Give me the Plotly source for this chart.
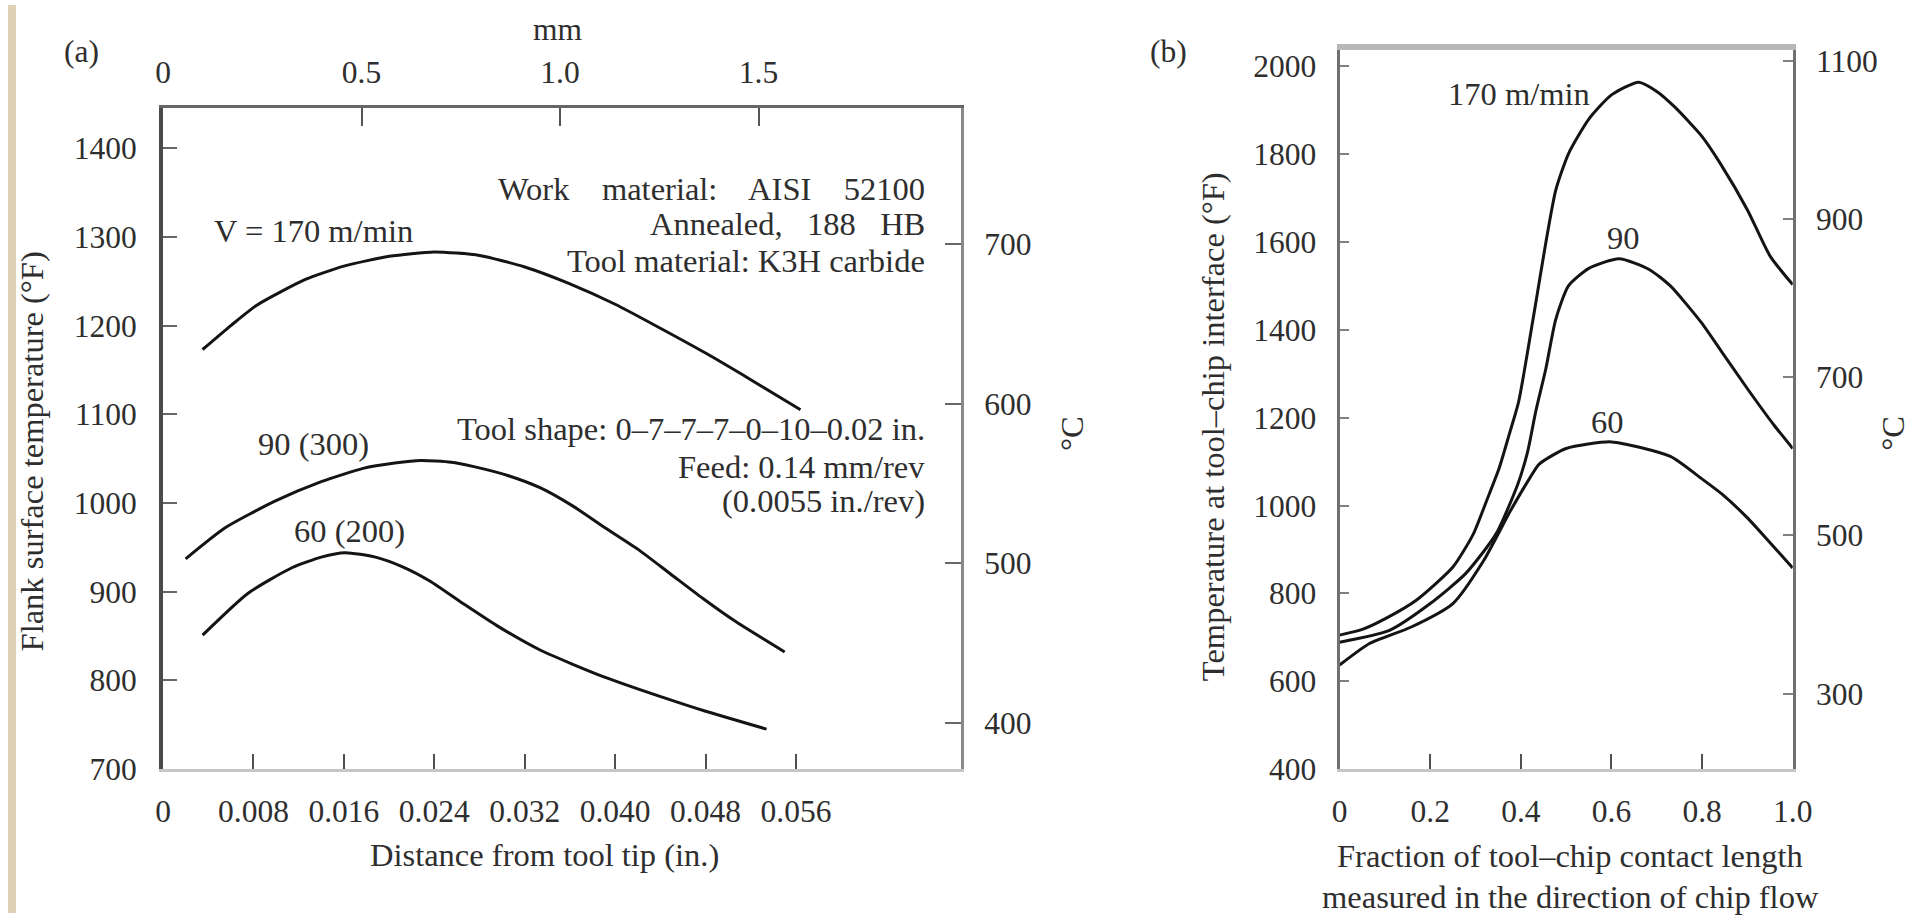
import plotly.graph_objects as go

# ---------------- data: panel (a) flank surface temperature ----------------
dist_in_170 = [0.0035, 0.006, 0.0083, 0.0126, 0.016, 0.020, 0.024, 0.028, 0.032, 0.036, 0.040, 0.044, 0.048, 0.052, 0.0564]
temp_f_170 = [1173, 1200, 1223, 1252, 1267, 1278, 1283, 1279, 1266, 1247, 1224, 1197, 1169, 1139, 1105]

dist_in_90 = [0.0020, 0.0055, 0.0099, 0.014, 0.0177, 0.0205, 0.0228, 0.0255, 0.0275, 0.0305, 0.0334, 0.0362, 0.039, 0.042, 0.0449, 0.0478, 0.0507, 0.055]
temp_f_90 = [937, 972, 1002, 1024, 1039, 1045, 1048, 1046, 1041, 1031, 1017, 997, 973, 948, 920, 892, 866, 832]

dist_in_60 = [0.0035, 0.0075, 0.0114, 0.014, 0.0161, 0.0188, 0.0212, 0.0236, 0.0265, 0.0295, 0.0334, 0.039, 0.0449, 0.0478, 0.0534]
temp_f_60 = [851, 898, 927, 939, 944, 939, 928, 912, 887, 862, 834, 804, 778, 766, 745]

# ---------------- data: panel (b) tool-chip interface temperature ----------------
frac_170 = [0, 0.05, 0.1, 0.17, 0.25, 0.295, 0.324, 0.352, 0.374, 0.395, 0.433, 0.455, 0.477, 0.505, 0.55, 0.6, 0.66, 0.70, 0.74, 0.80, 0.84, 0.90, 0.95, 1.0]
tint_170 = [705, 718, 742, 785, 860, 935, 1010, 1085, 1161, 1236, 1462, 1598, 1718, 1801, 1880, 1935, 1964, 1943, 1907, 1840, 1779, 1673, 1568, 1503]

frac_90 = [0, 0.11, 0.2, 0.278, 0.345, 0.393, 0.415, 0.433, 0.455, 0.477, 0.505, 0.55, 0.617, 0.684, 0.73, 0.798, 0.844, 0.90, 0.958, 1.0]
tint_90 = [689, 716, 777, 845, 935, 1048, 1123, 1215, 1311, 1424, 1500, 1540, 1562, 1537, 1500, 1417, 1349, 1266, 1184, 1130]

frac_60 = [0, 0.066, 0.157, 0.25, 0.318, 0.377, 0.42, 0.44, 0.5, 0.6, 0.73, 0.798, 0.844, 0.90, 0.946, 1.0]
tint_60 = [637, 686, 723, 777, 875, 988, 1063, 1094, 1130, 1145, 1112, 1062, 1026, 972, 920, 858]

# ---------------- tick labels ----------------
a_x_ticks = [0, 0.008, 0.016, 0.024, 0.032, 0.040, 0.048, 0.056]
a_x_labels = ["0", "0.008", "0.016", "0.024", "0.032", "0.040", "0.048", "0.056"]
a_mm_ticks = [0, 0.5, 1.0, 1.5]
a_mm_labels = ["0", "0.5", "1.0", "1.5"]
a_f_ticks = [700, 800, 900, 1000, 1100, 1200, 1300, 1400]
a_c_ticks = [400, 500, 600, 700]
b_x_ticks = [0, 0.2, 0.4, 0.6, 0.8, 1.0]
b_x_labels = ["0", "0.2", "0.4", "0.6", "0.8", "1.0"]
b_f_ticks = [400, 600, 800, 1000, 1200, 1400, 1600, 1800, 2000]
b_c_ticks = [300, 500, 700, 900, 1100]

A_F_RANGE = [700, 1445]
A_IN_RANGE = [0, 0.0706]
A_MM_RANGE = [0, 2.01]
B_F_RANGE = [400, 2038]
B_X_RANGE = [0, 1.0]


def f_to_c(f):
    return (f - 32) / 1.8


# design grid (target picture) and the page size that is captured into it
DW, DH = 1915, 915
W, H = 1931, 931


def px(x):
    return x / DW


def py(y):
    return 1 - y / DH


FONT = "Liberation Serif, Times New Roman, serif"
TXT = "#2e2e2e"
LINE = dict(color="#141414", width=3, shape="spline", smoothing=0.6)

fig = go.Figure()
for xs, ys in [(dist_in_170, temp_f_170), (dist_in_90, temp_f_90), (dist_in_60, temp_f_60)]:
    fig.add_trace(go.Scatter(x=xs, y=ys, xaxis="x", yaxis="y", mode="lines", line=LINE,
                             showlegend=False, hoverinfo="skip"))
for xs, ys in [(frac_170, tint_170), (frac_90, tint_90), (frac_60, tint_60)]:
    fig.add_trace(go.Scatter(x=xs, y=ys, xaxis="x3", yaxis="y3", mode="lines", line=LINE,
                             showlegend=False, hoverinfo="skip"))

# invisible helper traces so the secondary (mm / degC) axes are drawn
ghost = dict(mode="markers", marker=dict(opacity=0, size=1), showlegend=False, hoverinfo="skip")
fig.add_trace(go.Scatter(x=a_mm_ticks, y=a_f_ticks[:4], xaxis="x2", yaxis="y", **ghost))
fig.add_trace(go.Scatter(x=a_x_ticks[:4], y=a_c_ticks, xaxis="x", yaxis="y2", **ghost))
fig.add_trace(go.Scatter(x=b_x_ticks, y=b_f_ticks[:6], xaxis="x4", yaxis="y3", **ghost))
fig.add_trace(go.Scatter(x=b_x_ticks[:5], y=b_c_ticks, xaxis="x3", yaxis="y4", **ghost))

tickfont = dict(family=FONT, size=31.5, color=TXT)


def ax(**kw):
    base = dict(showgrid=False, zeroline=False, showline=True, ticks="inside",
                tickfont=tickfont, fixedrange=True, mirror=False)
    base.update(kw)
    return base


a_xdom = [px(156), px(959)]
a_ydom = [py(770), py(104)]
b_xdom = [px(1340), px(1796)]
b_ydom = [py(770), py(45)]

fig.update_layout(
    width=W, height=H, margin=dict(l=0, r=0, t=0, b=0),
    paper_bgcolor="white", plot_bgcolor="white",
    font=dict(family=FONT, color=TXT),
    xaxis=ax(domain=a_xdom, anchor="y", range=A_IN_RANGE, tickvals=a_x_ticks, ticktext=a_x_labels,
             linecolor="#c6c6c6", linewidth=3, ticklen=15, tickwidth=2, tickcolor="#505050",
             ticklabelstandoff=12),
    xaxis2=ax(overlaying="x", side="top", anchor="y", range=A_MM_RANGE, tickvals=a_mm_ticks,
              ticktext=a_mm_labels, linecolor="#666666", linewidth=3, ticklen=18, tickwidth=2,
              tickcolor="#555555", ticklabelstandoff=10),
    yaxis=ax(domain=a_ydom, anchor="x", range=A_F_RANGE, tickvals=a_f_ticks,
             ticktext=[str(v) for v in a_f_ticks], linecolor="#4a4a4a", linewidth=4, ticklen=14,
             tickwidth=2, tickcolor="#666666", ticklabelstandoff=16),
    yaxis2=ax(overlaying="y", side="right", anchor="x", range=[f_to_c(A_F_RANGE[0]), f_to_c(A_F_RANGE[1])],
              tickvals=a_c_ticks, ticktext=[str(v) for v in a_c_ticks], linecolor="#8a8a8a",
              linewidth=3, ticklen=16, tickwidth=2, tickcolor="#666666", ticklabelstandoff=14),
    xaxis3=ax(domain=b_xdom, anchor="y3", range=B_X_RANGE, tickvals=b_x_ticks, ticktext=b_x_labels,
              linecolor="#c6c6c6", linewidth=3, ticklen=15, tickwidth=2, tickcolor="#505050",
              ticklabelstandoff=12),
    xaxis4=ax(overlaying="x3", side="top", anchor="y3", range=B_X_RANGE, showticklabels=False, ticks="",
              linecolor="#b8b8b8", linewidth=6),
    yaxis3=ax(domain=b_ydom, anchor="x3", range=B_F_RANGE, tickvals=b_f_ticks,
              ticktext=[str(v) for v in b_f_ticks], linecolor="#707070", linewidth=3, ticklen=9,
              tickwidth=2, tickcolor="#808080", ticklabelstandoff=14),
    yaxis4=ax(overlaying="y3", side="right", anchor="x3", range=[f_to_c(B_F_RANGE[0]), f_to_c(B_F_RANGE[1])],
              tickvals=b_c_ticks, ticktext=[str(v) for v in b_c_ticks], linecolor="#707070",
              linewidth=3, ticklen=10, tickwidth=2, tickcolor="#808080", ticklabelstandoff=14),
)

ann = []


def paper_text(text, x, y, size=32.5, angle=0, xanchor="center"):
    ann.append(dict(text=text, x=px(x), y=py(y), xref="paper", yref="paper", showarrow=False,
                    textangle=angle, xanchor=xanchor, yanchor="middle",
                    font=dict(family=FONT, size=size, color=TXT)))


def data_text(text, x, y, xr, yr, size=32.5, xanchor="center"):
    ann.append(dict(text=text, x=x, y=y, xref=xr, yref=yr, showarrow=False, xanchor=xanchor,
                    yanchor="middle", font=dict(family=FONT, size=size, color=TXT)))


nb = "\u00a0"
paper_text("(a)", 74, 47, size=31.5)
paper_text("(b)", 1168, 47, size=31.5)
paper_text("mm", 553, 25, size=31.5)
paper_text("Distance from tool tip (in.)", 540, 857)
paper_text("Flank surface temperature (°F)", 24, 450, angle=-90)
paper_text("°C", 1070, 432, angle=-90)
paper_text("Temperature at tool–chip interface (°F)", 1212, 425, angle=-90)
paper_text("°C", 1897, 432, angle=-90)
paper_text("Fraction of tool–chip contact length", 1572, 858)
paper_text("measured in the direction of chip flow", 1572, 899)

data_text("V = 170 m/min", 0.01327, 1307, "x", "y")
data_text("90 (300)", 0.01327, 1066, "x", "y")
data_text("60 (200)", 0.01653, 968, "x", "y")
data_text(f"Work{nb*3} material:{nb*3} AISI{nb*3} 52100", 0.0676, 1354, "x", "y", xanchor="right")
data_text(f"Annealed,{nb*2} 188{nb*2} HB", 0.0676, 1315, "x", "y", xanchor="right")
data_text("Tool material: K3H carbide", 0.0676, 1273, "x", "y", xanchor="right")
data_text("Tool shape: 0–7–7–7–0–10–0.02 in.", 0.0676, 1083, "x", "y", xanchor="right")
data_text("Feed: 0.14 mm/rev", 0.0676, 1041, "x", "y", xanchor="right")
data_text("(0.0055 in./rev)", 0.0676, 1002, "x", "y", xanchor="right")
data_text("170 m/min", 0.396, 1937, "x3", "y3")
data_text("90", 0.626, 1609, "x3", "y3")
data_text("60", 0.591, 1191, "x3", "y3")

fig.update_layout(annotations=ann)

# scanned-page margin strip on the left
fig.add_shape(type="rect", xref="paper", yref="paper", x0=0, x1=px(8), y0=0, y1=1,
              fillcolor="#ddd0b4", line=dict(width=0), layer="below")

post = (
    "var st=document.createElement('style');"
    "st.textContent='html,body{margin:0!important;padding:0!important;overflow:hidden!important;}';"
    "document.head.appendChild(st);"
)
fig.write_html("out.html", include_plotlyjs=True, config={"displayModeBar": False},
               post_script=post)
